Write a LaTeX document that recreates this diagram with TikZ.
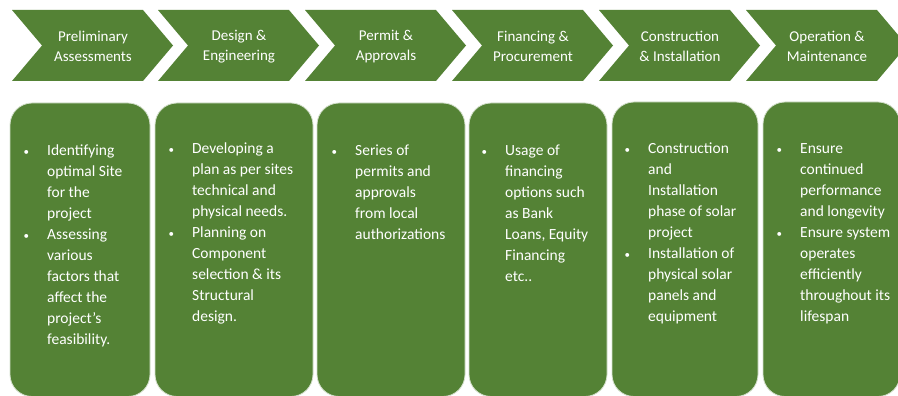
\documentclass[tikz,border=0pt]{standalone}
\usepackage{fontspec}
\setmainfont{Carlito}
\definecolor{pgreen}{RGB}{84,130,53}
\newcommand{\bul}{\llap{{\fontsize{11}{11}\selectfont\textbullet}\hspace{18pt}}}
\tikzset{
  chev/.style={fill=pgreen, draw=none},
  chevtext/.style={text=white, align=center, inner sep=0pt, font=\fontsize{15}{20}\selectfont},
  boxst/.style={fill=pgreen, draw=white!75!pgreen, line width=0.8pt, rounded corners=22pt},
  bodytext/.style={text=white, align=left, inner sep=0pt, anchor=north west, font=\fontsize{15.5}{21}\selectfont}
}
\begin{document}
\begin{tikzpicture}[x=1pt,y=-1pt]
\useasboundingbox (0,0) rectangle (898,396);
\fill[white] (0,0) rectangle (898,396);
\begin{scope}
\clip (0,0) rectangle (898,396);
% chevrons
\foreach \i/\xo/\lab in {1/12/{Preliminary\\Assessments},2/158/{Design \&\\Engineering},3/305/{Permit \&\\Approvals},4/452/{Financing \&\\Procurement},5/599/{Construction\\\& Installation},6/746/{Operation \&\\Maintenance}}{
  \path[chev] (\xo,10) -- ++(131,0) -- ++(30,35.5) -- ++(-30,35.5) -- ++(-131,0) -- ++(30,-35.5) -- cycle;
  \node[chevtext] (c\i) at (\xo+81,46.5) {\lab};
}
% boxes
\path[boxst] (10,103) rectangle (150,396.5);
\path[boxst] (155,103) rectangle (313,396.5);
\path[boxst] (317,103) rectangle (465,396.5);
\path[boxst] (469,103) rectangle (607,396.5);
\path[boxst] (612,102) rectangle (758,396.5);
\path[boxst] (763,102) rectangle (900,396.5);
\end{scope}
\node[bodytext] (t1) at (47,145) {\bul Identifying\\optimal Site\\for the\\project\\\bul Assessing\\various\\factors that\\affect the\\project’s\\feasibility.};
\node[bodytext] (t2) at (192,143) {\bul Developing a\\plan as per sites\\technical and\\physical needs.\\\bul Planning on\\Component\\selection \& its\\Structural\\design.};
\node[bodytext] (t3) at (355,145) {\bul Series of\\permits and\\approvals\\from local\\authorizations};
\node[bodytext] (t4) at (505,145) {\bul Usage of\\financing\\options such\\as Bank\\Loans, Equity\\Financing\\etc..};
\node[bodytext] (t5) at (648,143) {\bul Construction\\and\\Installation\\phase of solar\\project\\\bul Installation of\\physical solar\\panels and\\equipment};
\node[bodytext] (t6) at (800,143) {\bul Ensure\\continued\\performance\\and longevity\\\bul Ensure system\\operates\\efficiently\\throughout its\\lifespan};
\end{tikzpicture}
\end{document}
